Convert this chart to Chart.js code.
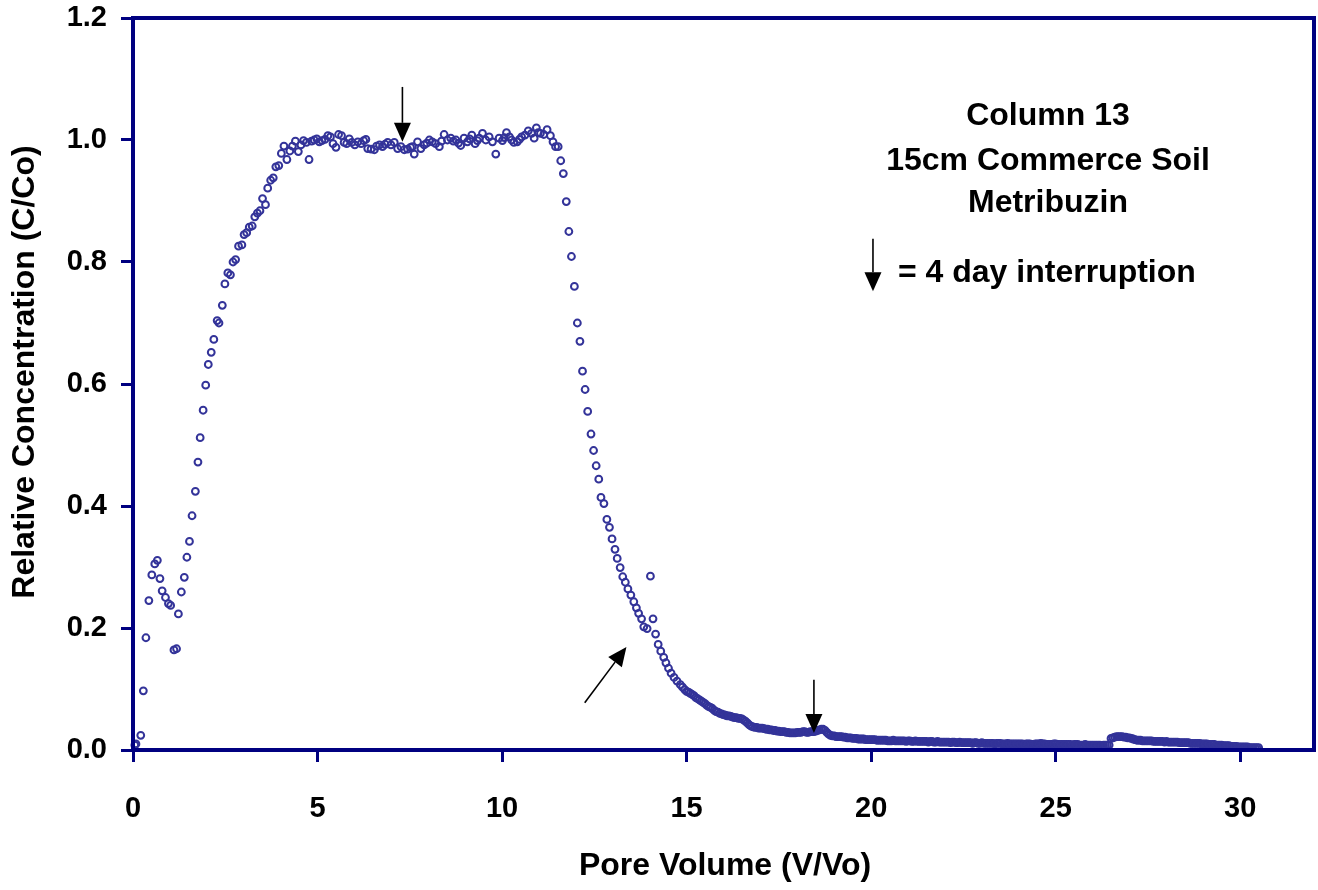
<!DOCTYPE html>
<html>
<head>
<meta charset="utf-8">
<title>Column 13 - Metribuzin breakthrough</title>
<script src="https://cdn.jsdelivr.net/npm/chart.js@4.4.1/dist/chart.umd.min.js"></script>
<style>
  body { margin: 0; background: #fff; }
  #wrap { width: 1318px; height: 890px; }
</style>
</head>
<body>
<div id="wrap"><canvas id="myChart" width="1318" height="890"></canvas></div>
<script>
// data - pore volume (V/Vo) and C/Co
const riseX = [0.05, 0.08, 0.21, 0.28, 0.35, 0.43, 0.51, 0.59, 0.66, 0.73, 0.79, 0.88, 0.96, 1.02, 1.11, 1.18, 1.23,
  1.31, 1.39, 1.46, 1.53, 1.60, 1.69, 1.76, 1.82, 1.90, 1.97, 2.04, 2.12, 2.19, 2.28, 2.33, 2.42, 2.49, 2.57, 2.64,
  2.71, 2.78, 2.86, 2.95, 3.01, 3.08, 3.15, 3.23, 3.30, 3.37, 3.44, 3.51, 3.59, 3.65, 3.73, 3.80, 3.87, 3.95];
const riseY = [0.008, 0.010, 0.024, 0.097, 0.184, 0.245, 0.287, 0.305, 0.311, 0.281, 0.261, 0.250, 0.240, 0.237, 0.164, 0.166, 0.223,
  0.259, 0.283, 0.316, 0.342, 0.384, 0.424, 0.472, 0.512, 0.557, 0.598, 0.632, 0.652, 0.673, 0.704, 0.700, 0.729, 0.764, 0.782, 0.779,
  0.800, 0.804, 0.826, 0.828, 0.845, 0.848, 0.857, 0.859, 0.874, 0.880, 0.884, 0.904, 0.894, 0.921, 0.934, 0.938, 0.956, 0.958];

const plateauX = [4.02, 4.09, 4.17, 4.25, 4.32, 4.40, 4.48, 4.55, 4.62, 4.70, 4.77, 4.84, 4.91, 4.98, 5.05, 5.12, 5.20, 5.28,
  5.35, 5.42, 5.50, 5.57, 5.65, 5.72, 5.79, 5.86, 5.93, 6.01, 6.09, 6.18, 6.25, 6.31, 6.36, 6.45, 6.54, 6.60, 6.68, 6.76,
  6.83, 6.90, 6.99, 7.08, 7.17, 7.26, 7.35, 7.44, 7.52, 7.57, 7.62, 7.71, 7.80, 7.89, 7.96, 8.03, 8.11, 8.20, 8.30, 8.36,
  8.43, 8.52, 8.61, 8.68, 8.75, 8.82, 8.88, 8.97, 9.06, 9.12, 9.18, 9.27, 9.33, 9.38, 9.47, 9.56, 9.65, 9.74, 9.83, 9.92,
  10.01, 10.06, 10.12, 10.20, 10.26, 10.32, 10.41, 10.47, 10.53, 10.62, 10.71, 10.80, 10.87, 10.93, 10.98, 11.04, 11.13,
  11.22, 11.31, 11.38, 11.45, 11.52];
const plateauY = [0.978, 0.990, 0.968, 0.982, 0.990, 0.998, 0.981, 0.992, 0.999, 0.996, 0.968, 0.998, 1.000, 1.002, 0.997, 0.999, 1.001, 1.007,
  1.005, 0.994, 0.988, 1.009, 1.007, 0.996, 0.994, 1.002, 0.996, 0.992, 0.997, 0.994, 0.999, 1.001, 0.986, 0.985, 0.984, 0.990, 0.992, 0.989,
  0.993, 0.996, 0.992, 0.996, 0.986, 0.989, 0.984, 0.985, 0.988, 0.989, 0.977, 0.997, 0.986, 0.992, 0.995, 1.000, 0.997, 0.994, 0.989, 0.998,
  1.009, 1.000, 1.003, 0.998, 1.000, 0.995, 0.991, 1.003, 0.997, 1.002, 1.008, 0.994, 0.999, 1.003, 1.011, 1.000, 1.005, 0.997, 0.977, 1.003,
  0.999, 1.004, 1.012, 1.005, 1.000, 0.996, 0.997, 1.001, 1.005, 1.008, 1.015, 1.011, 1.003, 1.020, 1.012, 1.011, 1.009,
  1.017, 1.007, 0.997, 0.989, 0.989];

const fallX = [11.59, 11.66, 11.74, 11.81, 11.88, 11.96, 12.04, 12.11, 12.18, 12.25, 12.32, 12.41, 12.48, 12.55, 12.62, 12.68,
  12.76, 12.84, 12.91, 12.98, 13.06, 13.12, 13.20, 13.27, 13.34, 13.41, 13.49, 13.57, 13.64, 13.70, 13.78, 13.84, 13.93,
  14.02, 14.09, 14.16, 14.23, 14.30, 14.38, 14.44, 14.51, 14.58, 14.66, 14.74, 14.83, 14.89, 14.95];
const fallY = [0.966, 0.945, 0.899, 0.850, 0.809, 0.760, 0.700, 0.670, 0.621, 0.591, 0.555, 0.518, 0.491, 0.466, 0.444, 0.414,
  0.404, 0.378, 0.365, 0.346, 0.329, 0.314, 0.299, 0.284, 0.275, 0.264, 0.254, 0.243, 0.233, 0.224, 0.215, 0.202, 0.199,
  0.285, 0.215, 0.190, 0.173, 0.162, 0.152, 0.143, 0.134, 0.126, 0.119, 0.113, 0.107, 0.103, 0.099];

// tail samples (the band after 15 PV is very dense)
const tailX = [15.0, 15.1, 15.2, 15.3, 15.4, 15.5, 15.6, 15.7, 15.8, 15.9, 16.0, 16.1, 16.2, 16.3, 16.4, 16.5, 16.6, 16.7, 16.8, 16.9,
  17.0, 17.1, 17.2, 17.3, 17.4, 17.5, 17.6, 17.7, 17.8, 17.9, 18.0, 18.1, 18.2, 18.3, 18.4, 18.5, 18.6, 18.7, 18.8, 18.9,
  19.0, 19.1, 19.2, 19.3, 19.4, 19.5, 19.6, 19.7, 19.8, 19.9, 20.0, 20.1, 20.2, 20.3, 20.4, 20.5, 20.6, 20.7, 20.8, 20.9,
  21.0, 21.1, 21.2, 21.3, 21.4, 21.5, 21.6, 21.7, 21.8, 21.9, 22.0, 22.1, 22.2, 22.3, 22.4, 22.5, 22.6, 22.7, 22.8, 22.9,
  23.0, 23.1, 23.2, 23.3, 23.4, 23.5, 23.6, 23.7, 23.8, 23.9, 24.0, 24.1, 24.2, 24.3, 24.4, 24.5, 24.6, 24.7, 24.8, 24.9,
  25.0, 25.1, 25.2, 25.3, 25.4, 25.5, 25.6, 25.7, 25.8, 25.9, 26.0, 26.1, 26.2, 26.3, 26.4, 26.45, 26.5, 26.6, 26.7, 26.8,
  26.9, 27.0, 27.1, 27.2, 27.3, 27.4, 27.5, 27.6, 27.7, 27.8, 27.9, 28.0, 28.1, 28.2, 28.3, 28.4, 28.5, 28.6, 28.7, 28.8,
  28.9, 29.0, 29.1, 29.2, 29.3, 29.4, 29.5, 29.6, 29.7, 29.8, 29.9, 30.0, 30.1, 30.2, 30.3, 30.4, 30.5];
const tailY = [0.096, 0.093, 0.089, 0.084, 0.080, 0.076, 0.071, 0.068, 0.063, 0.060, 0.058, 0.056, 0.055, 0.053, 0.052, 0.051, 0.047, 0.041, 0.038, 0.037,
  0.036, 0.035, 0.034, 0.033, 0.032, 0.031, 0.030, 0.029, 0.028, 0.028, 0.029, 0.029, 0.030, 0.029, 0.030, 0.031, 0.033, 0.034, 0.029, 0.024,
  0.023, 0.022, 0.022, 0.021, 0.020, 0.019, 0.019, 0.018, 0.018, 0.017, 0.017, 0.017, 0.016, 0.016, 0.016, 0.015, 0.016, 0.015, 0.015, 0.015,
  0.015, 0.014, 0.015, 0.014, 0.014, 0.014, 0.014, 0.013, 0.014, 0.013, 0.013, 0.013, 0.013, 0.012, 0.013, 0.012, 0.012, 0.012, 0.012, 0.011,
  0.012, 0.011, 0.011, 0.011, 0.011, 0.011, 0.010, 0.011, 0.010, 0.010, 0.010, 0.010, 0.010, 0.010, 0.009, 0.010, 0.011, 0.010, 0.009, 0.009,
  0.010, 0.009, 0.009, 0.009, 0.009, 0.009, 0.009, 0.008, 0.009, 0.008, 0.008, 0.008, 0.008, 0.008, 0.008, 0.008, 0.019, 0.021, 0.022, 0.022,
  0.021, 0.020, 0.018, 0.016, 0.016, 0.015, 0.015, 0.015, 0.014, 0.014, 0.014, 0.014, 0.013, 0.013, 0.013, 0.012, 0.012, 0.012, 0.011, 0.011,
  0.011, 0.010, 0.010, 0.009, 0.009, 0.008, 0.008, 0.007, 0.007, 0.006, 0.006, 0.005, 0.005, 0.005, 0.004, 0.004, 0.004];

// the in-between samples of the same band
const tail2X = [15.05, 15.15, 15.25, 15.35, 15.45, 15.55, 15.65, 15.75, 15.85, 15.95,
  16.05, 16.15, 16.25, 16.35, 16.45, 16.55, 16.65, 16.75, 16.85, 16.95,
  17.05, 17.15, 17.25, 17.35, 17.45, 17.55, 17.65, 17.75, 17.85, 17.95,
  18.05, 18.15, 18.25, 18.35, 18.45, 18.55, 18.65, 18.75, 18.85, 18.95,
  19.05, 19.15, 19.25, 19.35, 19.45, 19.55, 19.65, 19.75, 19.85, 19.95,
  20.05, 20.15, 20.25, 20.35, 20.45, 20.55, 20.65, 20.75, 20.85, 20.95,
  21.05, 21.15, 21.25, 21.35, 21.45, 21.55, 21.65, 21.75, 21.85, 21.95,
  22.05, 22.15, 22.25, 22.35, 22.45, 22.55, 22.65, 22.75, 22.85, 22.95,
  23.05, 23.15, 23.25, 23.35, 23.45, 23.55, 23.65, 23.75, 23.85, 23.95,
  24.05, 24.15, 24.25, 24.35, 24.45, 24.55, 24.65, 24.75, 24.85, 24.95,
  25.05, 25.15, 25.25, 25.35, 25.45, 25.55, 25.65, 25.75, 25.85, 25.95,
  26.05, 26.15, 26.25, 26.35, 26.55, 26.65, 26.75, 26.85, 26.95,
  27.05, 27.15, 27.25, 27.35, 27.45, 27.55, 27.65, 27.75, 27.85, 27.95,
  28.05, 28.15, 28.25, 28.35, 28.45, 28.55, 28.65, 28.75, 28.85, 28.95,
  29.05, 29.15, 29.25, 29.35, 29.45, 29.55, 29.65, 29.75, 29.85, 29.95,
  30.05, 30.15, 30.25, 30.35, 30.45];
const tail2Y = [0.095, 0.091, 0.086, 0.082, 0.078, 0.073, 0.070, 0.065, 0.062, 0.059,
  0.057, 0.056, 0.054, 0.053, 0.052, 0.049, 0.044, 0.039, 0.037, 0.036,
  0.036, 0.034, 0.033, 0.032, 0.031, 0.030, 0.030, 0.029, 0.028, 0.028,
  0.029, 0.030, 0.029, 0.030, 0.030, 0.032, 0.034, 0.032, 0.026, 0.023,
  0.022, 0.022, 0.021, 0.020, 0.020, 0.019, 0.018, 0.018, 0.017, 0.017,
  0.017, 0.016, 0.016, 0.016, 0.015, 0.015, 0.015, 0.015, 0.015, 0.014,
  0.015, 0.014, 0.014, 0.014, 0.014, 0.013, 0.014, 0.013, 0.013, 0.013,
  0.013, 0.012, 0.013, 0.012, 0.012, 0.012, 0.012, 0.011, 0.012, 0.011,
  0.011, 0.011, 0.011, 0.010, 0.011, 0.010, 0.010, 0.010, 0.010, 0.010,
  0.010, 0.009, 0.010, 0.009, 0.010, 0.010, 0.010, 0.009, 0.009, 0.010,
  0.009, 0.009, 0.009, 0.009, 0.008, 0.009, 0.008, 0.008, 0.008, 0.008,
  0.008, 0.008, 0.007, 0.008, 0.020, 0.022, 0.022, 0.021, 0.020,
  0.019, 0.017, 0.016, 0.015, 0.015, 0.015, 0.014, 0.014, 0.014, 0.013,
  0.013, 0.013, 0.013, 0.012, 0.012, 0.012, 0.011, 0.011, 0.011, 0.010,
  0.010, 0.009, 0.009, 0.008, 0.008, 0.007, 0.007, 0.006, 0.006, 0.005,
  0.005, 0.005, 0.004, 0.004, 0.004];

const xTicks = [0, 5, 10, 15, 20, 25, 30];
const yTicks = [0, 0.2, 0.4, 0.6, 0.8, 1.0, 1.2];
const infoLines = ["Column 13", "15cm Commerce Soil", "Metribuzin"];
const legendText = "= 4 day interruption";

// put the pieces together
const allX = riseX.concat(plateauX, fallX, tailX, tail2X);
const allY = riseY.concat(plateauY, fallY, tailY, tail2Y);
const points = allX.map(function (x, i) { return { x: x, y: allY[i] }; });

const navy = "#000080";
const FONT = "'Liberation Sans', Arial, sans-serif";

// arrows drawn in data units so they sit on the curve
function drawArrow(ctx, x1, y1, x2, y2) {
  const ang = Math.atan2(y2 - y1, x2 - x1);
  const headLen = 19, headW = 8.5;
  const bx = x2 - headLen * Math.cos(ang), by = y2 - headLen * Math.sin(ang);
  ctx.beginPath();
  ctx.moveTo(x1, y1);
  ctx.lineTo(bx, by);
  ctx.stroke();
  ctx.beginPath();
  ctx.moveTo(x2, y2);
  ctx.lineTo(bx + headW * Math.sin(ang), by - headW * Math.cos(ang));
  ctx.lineTo(bx - headW * Math.sin(ang), by + headW * Math.cos(ang));
  ctx.closePath();
  ctx.fill();
}

const extras = {
  id: "extras",
  afterDraw: function (chart) {
    const ctx = chart.ctx;
    const a = chart.chartArea;
    const xs = chart.scales.x, ys = chart.scales.y;
    ctx.save();

    // frame round the plot
    ctx.strokeStyle = navy;
    ctx.lineWidth = 4;
    ctx.strokeRect(a.left, a.top, a.right - a.left, a.bottom - a.top);

    // arrows
    ctx.strokeStyle = "#000";
    ctx.fillStyle = "#000";
    ctx.lineWidth = 1.6;
    const arr = [[7.3, 1.087, 7.3, 0.997], [12.24, 0.0775, 13.37, 0.169], [18.45, 0.115, 18.45, 0.028], [20.05, 0.838, 20.05, 0.752]];
    arr.forEach(function (r) {
      drawArrow(ctx, xs.getPixelForValue(r[0]), ys.getPixelForValue(r[1]), xs.getPixelForValue(r[2]), ys.getPixelForValue(r[3]));
    });

    // text block
    ctx.fillStyle = "#000";
    ctx.font = "bold 32px " + FONT;
    ctx.textAlign = "center";
    ctx.textBaseline = "alphabetic";
    const base = [125, 170, 212];
    infoLines.forEach(function (t, i) { ctx.fillText(t, 1048, base[i]); });
    ctx.textAlign = "left";
    ctx.fillText(legendText, 898, 282);

    // axis titles
    ctx.textAlign = "center";
    ctx.fillText("Pore Volume (V/Vo)", 725, 875);
    ctx.translate(34, 372);
    ctx.rotate(-Math.PI / 2);
    ctx.fillText("Relative Concentration (C/Co)", 0, 0);
    ctx.restore();
  }
};

new Chart(document.getElementById("myChart"), {
  type: "scatter",
  data: {
    datasets: [{
      data: points,
      showLine: false,
      pointStyle: "circle",
      pointRadius: 3.4,
      pointBorderWidth: 2,
      pointBorderColor: "#333399",
      pointBackgroundColor: "rgba(0,0,0,0)",
      clip: false
    }]
  },
  options: {
    responsive: false,
    animation: false,
    layout: { autoPadding: false, padding: { top: 18, right: 4, left: 0, bottom: 0 } },
    plugins: { legend: { display: false }, tooltip: { enabled: false } },
    scales: {
      x: {
        type: "linear",
        min: 0,
        max: 32,
        afterFit: function (s) { s.height = 140; s.paddingLeft = 0; s.paddingRight = 0; },
        afterBuildTicks: function (s) { s.ticks = xTicks.map(function (v) { return { value: v }; }); },
        ticks: { font: { family: FONT, size: 29, weight: "bold" }, color: "#000", padding: 30,
          callback: function (v) { return String(v); } },
        grid: { display: true, drawOnChartArea: false, drawTicks: true, tickLength: 12, color: navy, lineWidth: 3 },
        border: { display: false }
      },
      y: {
        min: 0,
        max: 1.2,
        afterFit: function (s) { s.width = 133; s.paddingTop = 0; s.paddingBottom = 0; },
        afterBuildTicks: function (s) { s.ticks = yTicks.map(function (v) { return { value: v }; }); },
        ticks: { font: { family: FONT, size: 29, weight: "bold" }, color: "#000", padding: 14,
          callback: function (v) { return v.toFixed(1); } },
        grid: { display: true, drawOnChartArea: false, drawTicks: true, tickLength: 12, color: navy, lineWidth: 3 },
        border: { display: false }
      }
    }
  },
  plugins: [extras]
});
</script>
</body>
</html>
